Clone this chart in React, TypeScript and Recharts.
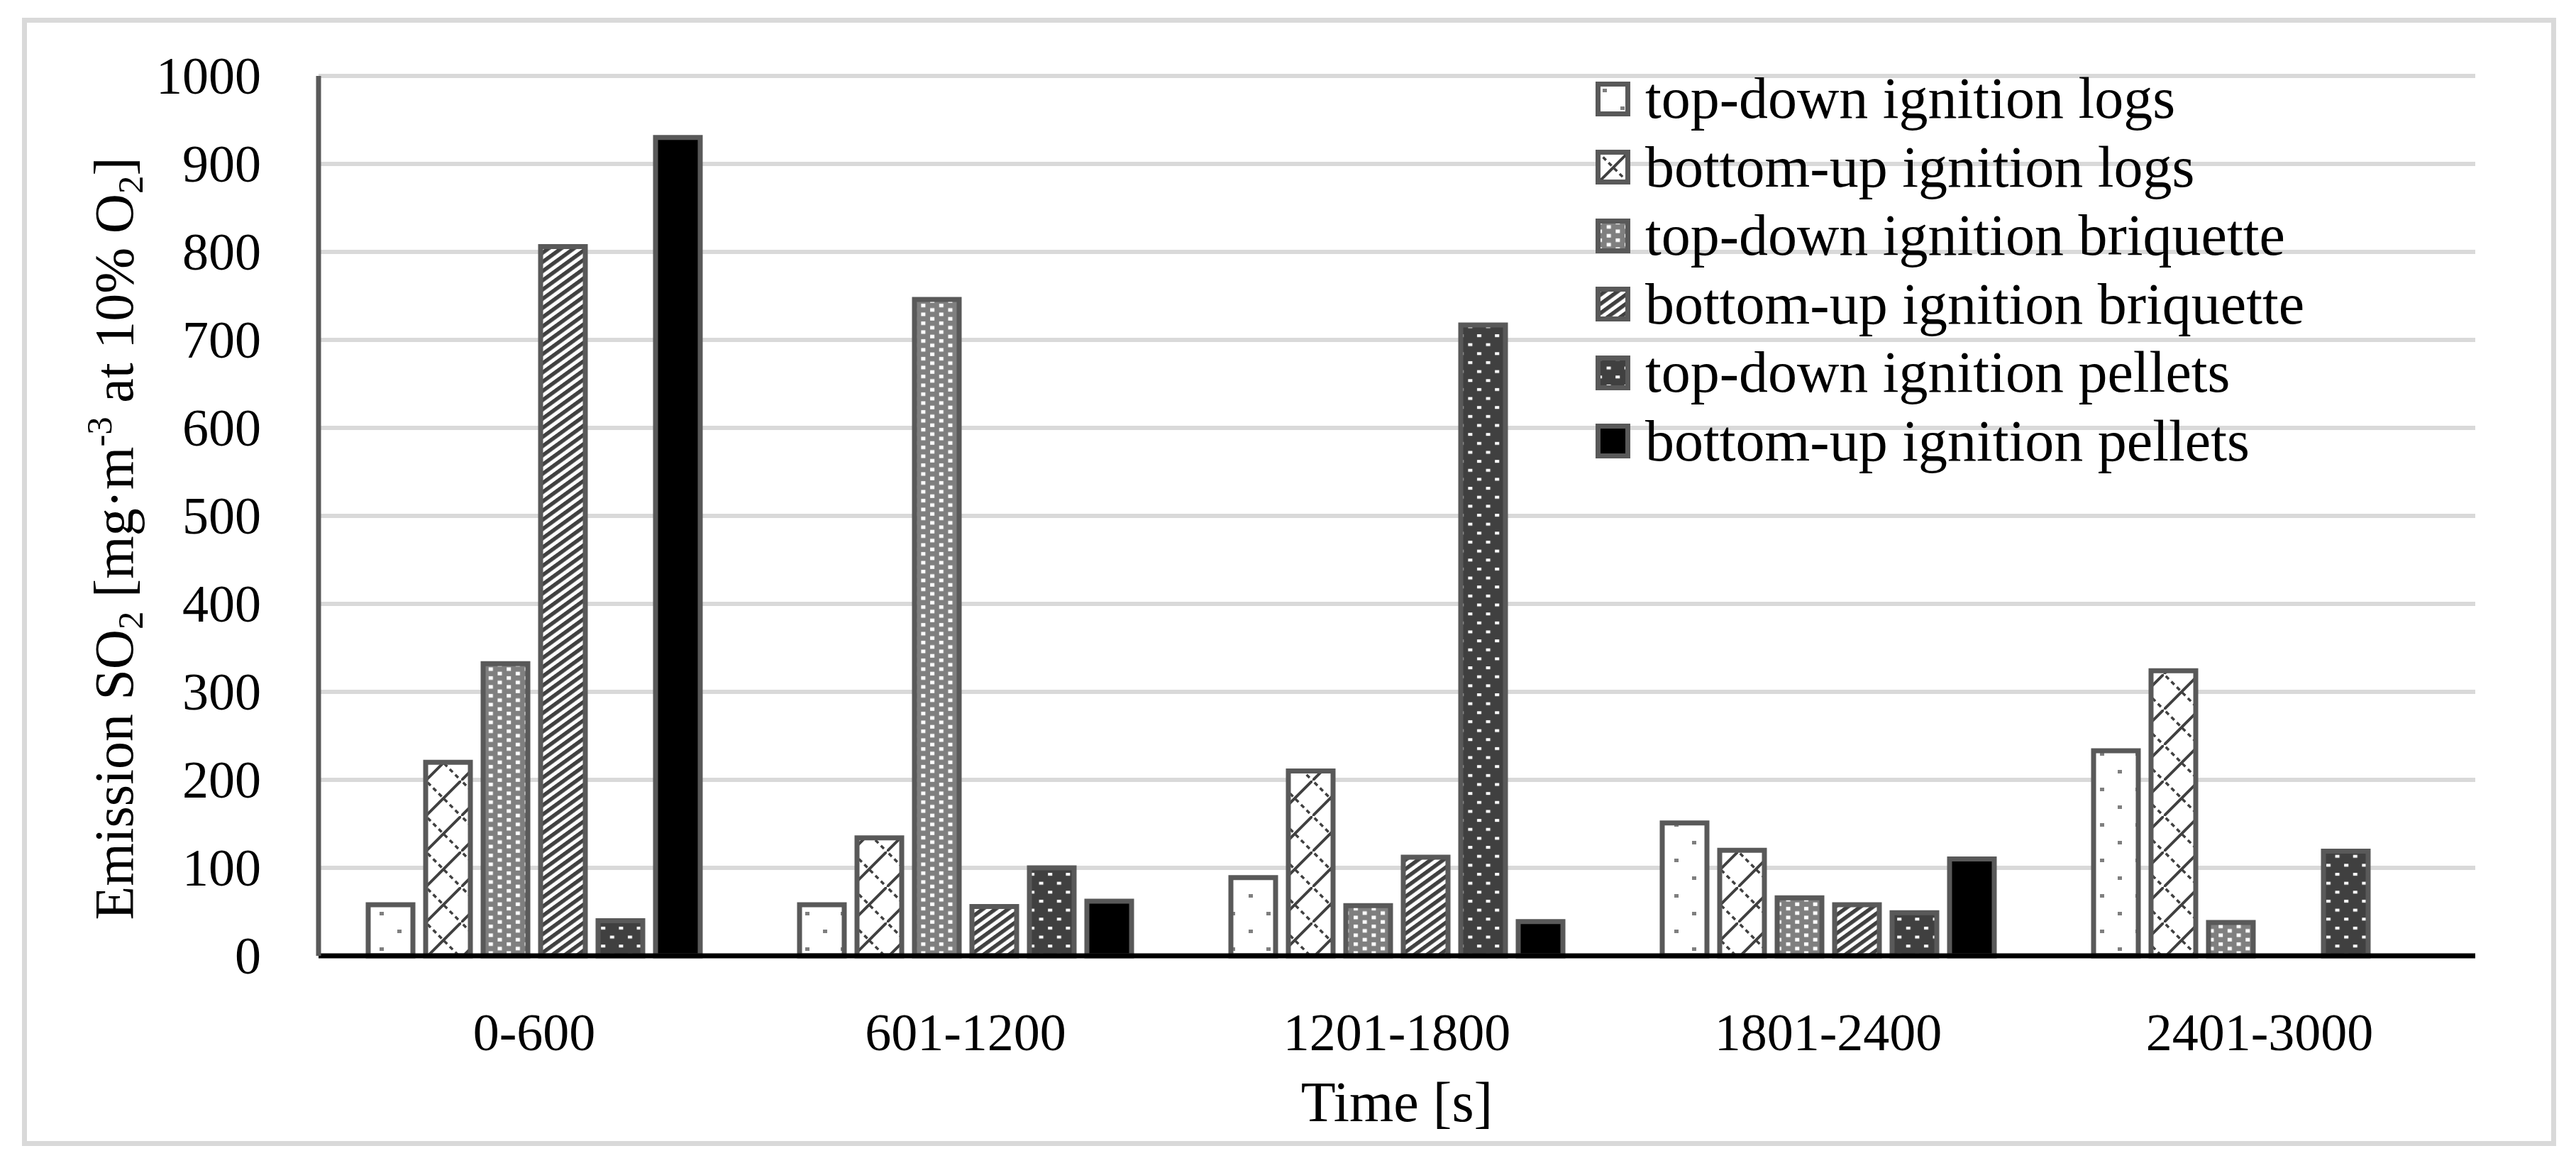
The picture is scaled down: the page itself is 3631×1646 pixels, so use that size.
import React from "react";
import { Bar, BarChart, CartesianGrid, Label, Legend, XAxis, YAxis } from "recharts";

const FONT = '"Liberation Serif", "Times New Roman", serif';

const periods = ["0-600", "601-1200", "1201-1800", "1801-2400", "2401-3000"];
const topDownLogs = [58, 58, 89, 151, 233];
const bottomUpLogs = [220, 134, 210, 120, 324];
const topDownBriquette = [332, 746, 57, 66, 38];
const bottomUpBriquette = [806, 56, 112, 58, null];
const topDownPellets = [40, 100, 717, 49, 119];
const bottomUpPellets = [930, 62, 39, 110, null];
const yTicks = [0, 100, 200, 300, 400, 500, 600, 700, 800, 900, 1000];

const series = [
  { key: "tdLogs", name: "top-down ignition logs", fill: "url(#pTdLogs)" },
  { key: "buLogs", name: "bottom-up ignition logs", fill: "url(#pBuLogs)" },
  { key: "tdBriq", name: "top-down ignition briquette", fill: "url(#pTdBriq)" },
  { key: "buBriq", name: "bottom-up ignition briquette", fill: "url(#pBuBriq)" },
  { key: "tdPell", name: "top-down ignition pellets", fill: "url(#pTdPell)" },
  { key: "buPell", name: "bottom-up ignition pellets", fill: "#000000" },
];

const data = periods.map((period, i) => ({
  period,
  tdLogs: topDownLogs[i],
  buLogs: bottomUpLogs[i],
  tdBriq: topDownBriquette[i],
  buBriq: bottomUpBriquette[i],
  tdPell: topDownPellets[i],
  buPell: bottomUpPellets[i],
}));

function YTick(props: any) {
  const { x, y, payload } = props;
  return (
    <text x={x - 81} y={y + 25} textAnchor="end" fontSize={74} fontFamily={FONT} fill="#000">
      {payload.value}
    </text>
  );
}

function XTick(props: any) {
  const { x, y, payload } = props;
  return (
    <text x={x} y={y + 133} textAnchor="middle" fontSize={74} fontFamily={FONT} fill="#000">
      {payload.value}
    </text>
  );
}

function YTitle(props: any) {
  const vb = props.viewBox;
  const x = vb.x + 187;
  const y = vb.y + vb.height / 2 + 32;
  return (
    <text x={x} y={y} transform={`rotate(-90 ${x} ${y})`} textAnchor="middle" fontSize={78} fontFamily={FONT} fill="#000">
      Emission SO<tspan fontSize={51} dy={14}>2</tspan>
      <tspan dy={-14}> [mg·m</tspan>
      <tspan fontSize={51} dy={-30}>-3</tspan>
      <tspan dy={30}> at 10% O</tspan>
      <tspan fontSize={51} dy={14}>2</tspan>
      <tspan dy={-14}>]</tspan>
    </text>
  );
}

function XTitle(props: any) {
  const vb = props.viewBox;
  return (
    <text x={vb.x + vb.width / 2} y={vb.y + 233} textAnchor="middle" fontSize={80} fontFamily={FONT} fill="#000">
      Time [s]
    </text>
  );
}

function LegendBox() {
  return (
    <div style={{ fontFamily: FONT, fontSize: 82, color: "#000" }}>
      {series.map((s) => (
        <div key={s.key} style={{ display: "flex", alignItems: "center", height: 96.5, lineHeight: "96.5px", whiteSpace: "nowrap" }}>
          <svg width={49} height={49} style={{ flex: "none" }}>
            <rect x={3.5} y={3.5} width={42} height={42} fill={s.fill} stroke="#595959" strokeWidth={7} />
          </svg>
          <span style={{ marginLeft: 21 }}>{s.name}</span>
        </div>
      ))}
    </div>
  );
}

export default function App() {
  return (
    <div style={{ position: "absolute", left: 0, top: 0, width: 3631, height: 1646, background: "#fff" }}>
      <div
        style={{
          position: "absolute",
          left: 31,
          top: 25,
          width: 3572,
          height: 1590,
          border: "7px solid #d9d9d9",
          boxSizing: "border-box",
        }}
      />
      <div style={{ position: "absolute", left: 0, top: 0 }}>
        <BarChart
          width={3631}
          height={1646}
          data={data}
          margin={{ top: 107, right: 142, left: 0, bottom: 0 }}
          barGap={18}
        >
          <defs>
            <pattern id="pTdLogs" patternUnits="userSpaceOnUse" width={50} height={50}>
              <rect width={50} height={50} fill="#fff" />
              <rect x={10} y={10} width={6} height={5} fill="#7f7f7f" />
              <rect x={35} y={35} width={6} height={5} fill="#7f7f7f" />
            </pattern>
            <pattern id="pBuLogs" patternUnits="userSpaceOnUse" width={50} height={50}>
              <rect width={50} height={50} fill="#fff" />
              <path d="M-5 55 L55 -5" stroke="#404040" strokeWidth={4} />
              <path d="M-5 -5 L55 55" stroke="#404040" strokeWidth={3.5} strokeDasharray="6 5" />
            </pattern>
            <pattern id="pTdBriq" patternUnits="userSpaceOnUse" width={25.4} height={12.5}>
              <rect width={25.4} height={12.5} fill="#7f7f7f" />
              <rect x={3} y={3} width={6} height={5} fill="#fff" />
              <rect x={15.7} y={9.25} width={6} height={5} fill="#fff" />
              <rect x={15.7} y={-3.25} width={6} height={5} fill="#fff" />
            </pattern>
            <pattern id="pBuBriq" patternUnits="userSpaceOnUse" width={10.5} height={10.5} patternTransform="rotate(-36)">
              <rect width={10.5} height={10.5} fill="#fff" />
              <rect width={10.5} height={5.5} fill="#404040" />
            </pattern>
            <pattern id="pTdPell" patternUnits="userSpaceOnUse" width={25.2} height={25.3}>
              <rect width={25.2} height={25.3} fill="#404040" />
              <rect x={3} y={3} width={6} height={4} fill="#fff" />
              <rect x={15.6} y={15.65} width={6} height={4} fill="#fff" />
            </pattern>
          </defs>
          <CartesianGrid vertical={false} stroke="#d9d9d9" strokeWidth={6} />
          <XAxis
            dataKey="period"
            height={299}
            axisLine={{ stroke: "#000", strokeWidth: 7 }}
            tickLine={false}
            tickSize={0}
            tickMargin={0}
            tick={<XTick />}
            interval={0}
          >
            <Label content={XTitle} />
          </XAxis>
          <YAxis
            width={449}
            domain={[0, 1000]}
            ticks={yTicks}
            axisLine={{ stroke: "#595959", strokeWidth: 7 }}
            tickLine={false}
            tickSize={0}
            tickMargin={0}
            tick={<YTick />}
          >
            <Label content={YTitle} />
          </YAxis>
          <Legend
            layout="horizontal"
            verticalAlign="middle"
            align="center"
            content={() => <LegendBox />}
            wrapperStyle={{ left: 2249, top: 91, width: 1300, height: 579 }}
          />
          {series.map((s) => (
            <Bar
              key={s.key}
              dataKey={s.key}
              name={s.name}
              fill={s.fill}
              stroke="#595959"
              strokeWidth={7}
              barSize={63}
              isAnimationActive={false}
            />
          ))}
        </BarChart>
      </div>
    </div>
  );
}
